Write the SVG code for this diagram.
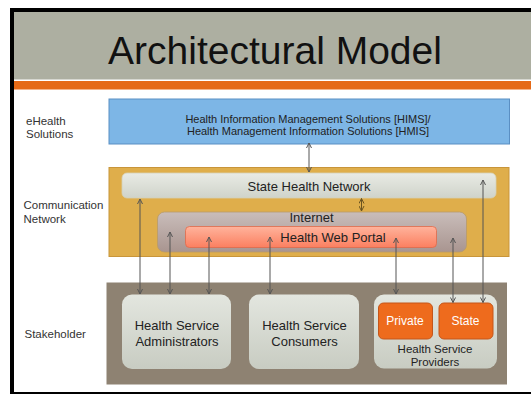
<svg xmlns="http://www.w3.org/2000/svg" width="531" height="394" viewBox="0 0 531 394">
<defs>
<style>
text{font-family:"Liberation Sans",Arial,sans-serif;fill:#222}
.lbl{font-size:11.5px;fill:#333}
.mid{text-anchor:middle}
.conn line{stroke:#555;stroke-width:1;marker-start:url(#ah);marker-end:url(#ah)}
</style>
<marker id="ah" viewBox="0 0 6 6" refX="5.5" refY="3" markerWidth="6" markerHeight="6" markerUnits="userSpaceOnUse" orient="auto-start-reverse">
<path d="M0.5,0.5 L5.5,3 L0.5,5.5" fill="none" stroke="#555" stroke-width="1"/>
</marker>
<marker id="ah2" viewBox="0 0 6 6" refX="5.5" refY="3" markerWidth="6" markerHeight="6" markerUnits="userSpaceOnUse" orient="auto-start-reverse">
<path d="M0.5,0.5 L5.5,3 L0.5,5.5" fill="none" stroke="#6b5420" stroke-width="1"/>
</marker>
<linearGradient id="gShn" x1="0" y1="0" x2="0" y2="1"><stop offset="0" stop-color="#e9ebe5"/><stop offset="1" stop-color="#cfd3ca"/></linearGradient>
<linearGradient id="gNet" x1="0" y1="0" x2="0" y2="1"><stop offset="0" stop-color="#c9bdba"/><stop offset="1" stop-color="#a99590"/></linearGradient>
<linearGradient id="gPor" x1="0" y1="0" x2="0" y2="1"><stop offset="0" stop-color="#ffb39c"/><stop offset="1" stop-color="#fb7f60"/></linearGradient>
<linearGradient id="gBox" x1="0" y1="0" x2="0" y2="1"><stop offset="0" stop-color="#e3e6df"/><stop offset="1" stop-color="#c8ccc2"/></linearGradient>
</defs>
<rect width="531" height="394" fill="#fff"/>
<!-- frame and title -->
<rect x="10" y="8" width="521" height="386" fill="#000"/>
<rect x="14" y="12" width="517" height="380" fill="#fff"/>
<rect x="14" y="12" width="517" height="67.5" fill="#adafa1"/>
<rect x="14" y="81" width="517" height="8.5" fill="#e56a17"/>
<text x="275" y="64" class="mid" style="font-size:39px;fill:#111">Architectural Model</text>

<!-- layer labels -->
<text class="lbl" x="26" y="124.5">eHealth</text>
<text class="lbl" x="26" y="137.5">Solutions</text>
<text class="lbl" x="23.5" y="208.5">Communication</text>
<text class="lbl" x="23.5" y="223">Network</text>
<text class="lbl" x="24.5" y="337.5">Stakeholder</text>

<g id="hims">
<rect x="109" y="99" width="400.5" height="45" fill="#7db6e6" stroke="#5a8fc3" stroke-width="1"/>
<text x="308" y="122.5" class="mid" style="font-size:11px">Health Information Management Solutions [HIMS]/</text>
<text x="308" y="135" class="mid" style="font-size:11px">Health Management Information Solutions [HMIS]</text>
</g>

<g id="comm-network">
<rect x="109" y="167.5" width="400" height="89" fill="#dfae4b" stroke="#c8953a" stroke-width="1"/>
</g>

<g id="state-health-network">
<rect x="122" y="173" width="374" height="25" rx="5" fill="url(#gShn)" stroke="#d6d0b5" stroke-width="0.8"/>
<text x="309" y="190.5" class="mid" style="font-size:13px">State Health Network</text>
</g>

<g id="internet">
<rect x="157.5" y="212" width="309" height="40" rx="7" fill="url(#gNet)" stroke="#b89a6a" stroke-width="0.8"/>
<text x="311.5" y="221.5" class="mid" style="font-size:13px">Internet</text>
</g>

<g id="health-web-portal">
<rect x="185.5" y="226.5" width="251" height="21" rx="4" fill="url(#gPor)" stroke="#e06a4a" stroke-width="0.8"/>
<text x="333" y="242" class="mid" style="font-size:13px">Health Web Portal</text>
</g>

<g id="stakeholder">
<rect x="106.5" y="282.5" width="400.5" height="102" fill="#8e8272"/>
</g>

<g id="administrators">
<rect x="122" y="294.5" width="109" height="74.5" rx="10" fill="url(#gBox)"/>
<text x="177" y="330" class="mid" style="font-size:13px">Health Service</text>
<text x="177" y="346" class="mid" style="font-size:13px">Administrators</text>
</g>

<g id="consumers">
<rect x="249" y="294.5" width="110" height="74.5" rx="10" fill="url(#gBox)"/>
<text x="304.5" y="330" class="mid" style="font-size:13px">Health Service</text>
<text x="304.5" y="346" class="mid" style="font-size:13px">Consumers</text>
</g>

<g id="providers">
<rect x="374" y="294.5" width="123" height="74" rx="10" fill="url(#gBox)"/>
<text x="435" y="353" class="mid" style="font-size:11.5px">Health Service</text>
<text x="435" y="366" class="mid" style="font-size:11.5px">Providers</text>
</g>

<g id="private">
<rect x="378.5" y="303" width="54" height="36" rx="5" fill="#ee6b1d" stroke="#c4561a" stroke-width="1"/>
<text x="405" y="325" class="mid" style="font-size:12px;fill:#fff">Private</text>
</g>

<g id="state">
<rect x="439" y="303" width="54" height="36" rx="5" fill="#ee6b1d" stroke="#c4561a" stroke-width="1"/>
<text x="465.5" y="325" class="mid" style="font-size:12px;fill:#fff">State</text>
</g>

<g id="connectors" class="conn">
<line x1="309" y1="143" x2="309" y2="172"/>
<line x1="361.5" y1="198.5" x2="361.5" y2="211" style="stroke:#6b5420;marker-start:url(#ah2);marker-end:url(#ah2)"/>
<line x1="140" y1="199" x2="140" y2="294"/>
<line x1="170" y1="232" x2="170" y2="294"/>
<line x1="209" y1="237" x2="209" y2="294"/>
<line x1="270" y1="237" x2="270" y2="294"/>
<line x1="396" y1="238" x2="396" y2="294"/>
<line x1="453" y1="238" x2="453" y2="302.5"/>
<line x1="483" y1="180" x2="483" y2="302.5"/>
</g>
</svg>
